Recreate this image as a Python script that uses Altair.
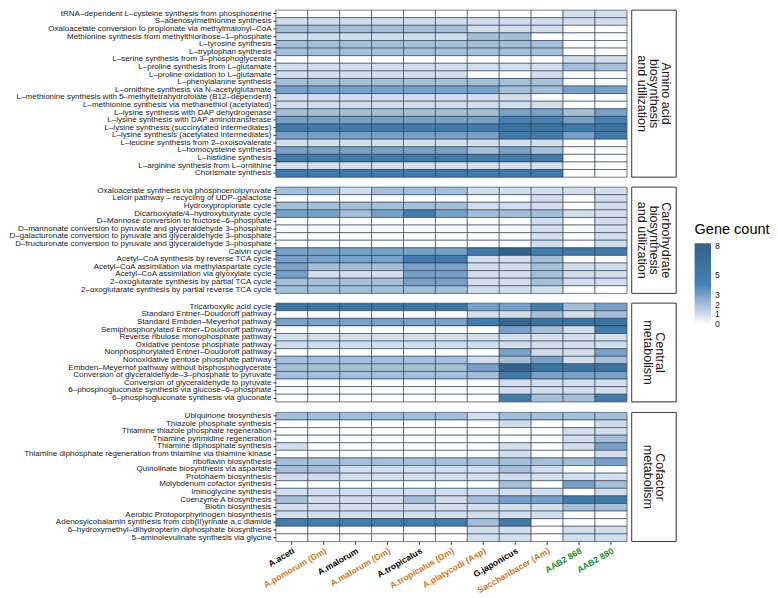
import json
import altair as alt
import pandas as pd

species = ["A.aceti", "A.pomorum (Dm)", "A.malorum", "A.malorum (Dm)", "A.tropicalus",
           "A.tropicalus (Dm)", "A.platycodi (Asp)", "G.japonicus", "Saccharibacer (Am)",
           "AAB2 868", "AAB2 880"]
orange_species = ["A.pomorum (Dm)", "A.malorum (Dm)", "A.tropicalus (Dm)",
                  "A.platycodi (Asp)", "Saccharibacer (Am)"]
green_species = ["AAB2 868", "AAB2 880"]

group_titles = [["Amino acid", "biosynthesis", "and utilization"],
                ["Carbohydrate", "biosynthesis", "and utilization"],
                ["Central", "metabolism"],
                ["Cofactor", "metabolism"]]

amino_pathways = [
    "tRNA–dependent L–cysteine synthesis from phosphoserine",
    "S–adenosylmethionine synthesis",
    "Oxaloacetate conversion to propionate via methylmalonyl–CoA",
    "Methionine synthesis from methylthioribose–1–phosphate",
    "L–tyrosine synthesis",
    "L–tryptophan synthesis",
    "L–serine synthesis from 3–phosphoglycerate",
    "L–proline synthesis from L–glutamate",
    "L–proline oxidation to L–glutamate",
    "L–phenylalanine synthesis",
    "L–ornithine synthesis via N–acetylglutamate",
    "L–methionine synthesis with 5–methyltetrahydrofolate (B12–dependent)",
    "L–methionine synthesis via methanethiol (acetylated)",
    "L–lysine synthesis with DAP dehydrogenase",
    "L–lysine synthesis with DAP aminotransferase",
    "L–lysine synthesis (succinylated intermediates)",
    "L–lysine synthesis (acetylated intermediates)",
    "L–leucine synthesis from 2–oxoisovalerate",
    "L–homocysteine synthesis",
    "L–histidine synthesis",
    "L–arginine synthesis from L–ornithine",
    "Chorismate synthesis",
]
amino_counts = [
    [0, 0, 0, 0, 0, 0, 0, 0, 0, 1, 1],
    [1, 1, 1, 1, 1, 1, 1, 1, 1, 1, 1],
    [2, 2, 2, 2, 2, 2, 1, 1, 1, 0, 0],
    [1, 1, 1, 1, 1, 1, 2, 2, 0, 0, 0],
    [2, 2, 2, 2, 2, 2, 2, 2, 2, 0, 0],
    [2, 2, 2, 2, 2, 2, 2, 2, 2, 0, 0],
    [0, 0, 0, 0, 0, 0, 0, 0, 0, 1, 1],
    [1, 1, 1, 1, 1, 1, 1, 1, 1, 2, 2],
    [1, 1, 1, 1, 1, 1, 0, 0, 1, 0, 0],
    [2, 2, 2, 2, 2, 2, 2, 2, 2, 0, 0],
    [3, 3, 3, 3, 3, 3, 3, 2, 2, 3, 3],
    [1, 1, 1, 1, 1, 1, 1, 1, 0, 0, 0],
    [1, 1, 1, 1, 1, 1, 1, 1, 1, 0, 0],
    [2, 2, 2, 2, 2, 2, 2, 3, 3, 2, 3],
    [3, 3, 3, 3, 3, 3, 3, 4, 4, 3, 4],
    [5, 5, 5, 5, 5, 5, 5, 6, 6, 5, 6],
    [3, 3, 3, 3, 3, 3, 3, 5, 5, 3, 5],
    [1, 1, 1, 1, 1, 1, 1, 1, 1, 0, 0],
    [3, 3, 3, 3, 3, 3, 2, 3, 2, 0, 0],
    [5, 5, 5, 5, 5, 5, 5, 5, 5, 0, 0],
    [1, 1, 1, 1, 1, 1, 1, 1, 1, 0, 0],
    [5, 5, 5, 5, 5, 5, 5, 5, 5, 0, 0],
]

carbo_pathways = [
    "Oxaloacetate synthesis via phosphoenolpyruvate",
    "Leloir pathway – recycling of UDP–galactose",
    "Hydroxypropionate cycle",
    "Dicarboxylate/4–hydroxybutyrate cycle",
    "D–Mannose conversion to fructose–6–phosphate",
    "D–mannonate conversion to pyruvate and glyceraldehyde 3–phosphate",
    "D–galacturonate conversion to pyruvate and glyceraldehyde 3–phosphate",
    "D–fructuronate conversion to pyruvate and glyceraldehyde 3–phosphate",
    "Calvin cycle",
    "Acetyl–CoA synthesis by reverse TCA cycle",
    "Acetyl–CoA assimilation via methylaspartate cycle",
    "Acetyl–CoA assimilation via glyoxylate cycle",
    "2–oxoglutarate synthesis by partial TCA cycle",
    "2–oxoglutarate synthesis by partial reverse TCA cycle",
]
carbo_counts = [
    [2, 2, 1, 2, 2, 2, 1, 1, 1, 1, 1],
    [0, 0, 0, 0, 0, 0, 0, 0, 1, 0, 1],
    [2, 2, 2, 2, 2, 2, 1, 1, 1, 0, 1],
    [3, 3, 2, 3, 5, 3, 2, 2, 2, 1, 1],
    [0, 0, 0, 0, 0, 0, 0, 0, 1, 0, 1],
    [0, 0, 0, 0, 0, 0, 0, 0, 1, 0, 1],
    [0, 0, 0, 0, 0, 0, 0, 0, 1, 0, 1],
    [0, 0, 0, 0, 0, 0, 0, 0, 1, 0, 1],
    [3, 3, 3, 3, 3, 3, 5, 8, 5, 5, 5],
    [3, 3, 3, 3, 5, 5, 1, 1, 2, 0, 0],
    [3, 2, 2, 2, 3, 3, 1, 1, 2, 1, 1],
    [3, 1, 1, 1, 3, 3, 1, 1, 2, 1, 1],
    [2, 2, 2, 2, 3, 3, 1, 1, 2, 1, 1],
    [2, 2, 2, 2, 2, 2, 1, 1, 1, 0, 0],
]

central_pathways = [
    "Tricarboxylic acid cycle",
    "Standard Entner–Doudoroff pathway",
    "Standard Embden–Meyerhof pathway",
    "Semiphosphorylated Entner–Doudoroff pathway",
    "Reverse ribulose monophosphate pathway",
    "Oxidative pentose phosphate pathway",
    "Nonphosphorylated Entner–Doudoroff pathway",
    "Nonoxidative pentose phosphate pathway",
    "Embden–Meyerhof pathway without bisphosphoglycerate",
    "Conversion of glyceraldehyde–3–phosphate to pyruvate",
    "Conversion of glyceraldehyde to pyruvate",
    "6–phosphogluconate synthesis via glucose–6–phosphate",
    "6–phosphogluconate synthesis via gluconate",
]
central_counts = [
    [6, 6, 6, 6, 6, 6, 3, 3, 5, 2, 3],
    [0, 0, 0, 0, 0, 0, 1, 1, 2, 1, 2],
    [3, 3, 3, 3, 3, 3, 5, 8, 6, 6, 6],
    [0, 0, 0, 0, 0, 0, 0, 3, 2, 1, 5],
    [1, 1, 1, 1, 1, 1, 1, 1, 1, 1, 1],
    [1, 1, 1, 1, 1, 1, 1, 1, 1, 1, 1],
    [0, 0, 0, 0, 0, 0, 0, 3, 1, 1, 3],
    [2, 2, 2, 2, 2, 2, 1, 2, 3, 1, 2],
    [2, 2, 2, 2, 2, 2, 3, 8, 6, 6, 6],
    [2, 2, 2, 2, 2, 2, 2, 5, 3, 3, 3],
    [0, 0, 0, 0, 0, 0, 0, 1, 1, 1, 1],
    [0, 0, 0, 0, 0, 0, 0, 1, 1, 1, 1],
    [0, 0, 0, 0, 0, 0, 0, 5, 2, 2, 5],
]

cofactor_pathways = [
    "Ubiquinone biosynthesis",
    "Thiazole phosphate synthesis",
    "Thiamine thiazole phosphate regeneration",
    "Thiamine pyrimidine regeneration",
    "Thiamine diphosphate synthesis",
    "Thiamine diphosphate regeneration from thiamine via thiamine kinase",
    "riboflavin biosynthesis",
    "Quinolinate biosynthesis via aspartate",
    "Protohaem biosynthesis",
    "Molybdenum cofactor synthesis",
    "Iminoglycine synthesis",
    "Coenzyme A biosynthesis",
    "Biotin biosynthesis",
    "Aerobic Protoporphyrinogen biosynthesis",
    "Adenosylcobalamin synthesis from cob(II)yrinate a,c diamide",
    "6–hydroxymethyl–dihydropterin diphosphate biosynthesis",
    "5–aminolevulinate synthesis via glycine",
]
cofactor_counts = [
    [2, 2, 2, 2, 2, 2, 1, 2, 2, 2, 2],
    [0, 0, 0, 0, 0, 0, 0, 1, 0, 0, 1],
    [0, 0, 0, 0, 0, 0, 0, 0, 0, 1, 1],
    [0, 0, 0, 0, 0, 0, 0, 0, 0, 1, 2],
    [1, 0, 0, 0, 0, 0, 0, 1, 0, 1, 3],
    [0, 0, 0, 0, 0, 0, 0, 1, 0, 0, 1],
    [2, 2, 2, 2, 2, 2, 2, 2, 2, 2, 3],
    [2, 2, 1, 1, 1, 1, 1, 2, 1, 0, 0],
    [1, 1, 1, 1, 1, 1, 1, 1, 1, 1, 1],
    [0, 0, 0, 0, 0, 0, 0, 2, 0, 3, 2],
    [1, 1, 1, 1, 1, 1, 1, 1, 1, 0, 1],
    [2, 1, 1, 1, 2, 1, 2, 3, 3, 5, 5],
    [1, 1, 1, 1, 1, 1, 1, 1, 1, 2, 2],
    [1, 1, 1, 1, 1, 1, 1, 1, 1, 0, 0],
    [5, 5, 5, 5, 5, 5, 2, 5, 0, 0, 0],
    [0, 0, 0, 0, 0, 0, 1, 1, 0, 1, 1],
    [0, 0, 0, 0, 0, 0, 1, 1, 0, 1, 1],
]

groups = [
    (group_titles[0], amino_pathways, amino_counts),
    (group_titles[1], carbo_pathways, carbo_counts),
    (group_titles[2], central_pathways, central_counts),
    (group_titles[3], cofactor_pathways, cofactor_counts),
]

FONT = "Liberation Sans"
ROW = 7.85
COL = 33
STRIP_W = 46
STRIP_LH = 12
YEXT = 262

# colour ramp: white at 0 -> steelblue at 4 -> steelblue4 at 8 (bar padded a little past 0 and 8)
color_scale = alt.Scale(domain=[-0.3, 0, 4, 8, 8.3],
                        range=["#ffffff", "#ffffff", "#4682B4", "#36648B", "#36648B"],
                        interpolate="lab")
legend = alt.Legend(title="Gene count", orient="none", legendX=433, legendY=220,
                    values=[0, 1, 2, 3, 5, 8], gradientLength=87, gradientThickness=17,
                    titleFontSize=15, titleFontWeight="normal", titleFont=FONT,
                    titleColor="#000000", labelFontSize=9, labelFont=FONT,
                    labelColor="#1a1a1a", direction="vertical", gradientStrokeWidth=0,
                    titlePadding=6, labelOffset=4, labelOverlap=False)

label_color = {
    "condition": [
        {"test": "indexof(%s, datum.value) >= 0" % json.dumps(orange_species), "value": "#D2781E"},
        {"test": "indexof(%s, datum.value) >= 0" % json.dumps(green_species), "value": "#1E8A1E"},
    ],
    "value": "#000000",
}

rows = []
for gi, (title_lines, paths, counts) in enumerate(groups):
    recs = []
    for p, vals in zip(paths, counts):
        for s, v in zip(species, vals):
            recs.append({"pathway": p, "species": s, "count": v})
    df = pd.DataFrame(recs)
    last = gi == len(groups) - 1
    if last:
        xaxis = alt.Axis(title=None, labelAngle=-30, labelAlign="right", labelBaseline="top",
                         labelFontSize=9, labelFontWeight="bold", labelFont=FONT,
                         labelColor=label_color, tickSize=3, tickColor="#333333",
                         domain=False, labelPadding=2)
    else:
        xaxis = None
    heat = alt.Chart(df).mark_rect(stroke="#26364a", strokeWidth=0.6).encode(
        x=alt.X("species:N", sort=species, axis=xaxis,
                scale=alt.Scale(paddingInner=0, paddingOuter=0)),
        y=alt.Y("pathway:N", sort=paths,
                scale=alt.Scale(paddingInner=0, paddingOuter=0),
                axis=alt.Axis(title=None, labelFontSize=8.3, labelFont=FONT,
                              labelColor="#1a1a1a", labelLimit=400, tickSize=3,
                              tickColor="#333333", domain=False, labelPadding=2,
                              minExtent=YEXT, maxExtent=YEXT)),
        color=alt.Color("count:Q", scale=color_scale, legend=legend),
    ).properties(width=alt.Step(COL), height=alt.Step(ROW))

    h = len(paths) * ROW
    n = len(title_lines)
    sdf = pd.DataFrame({"label": [" ".join(title_lines)]})
    box = alt.Chart(sdf).mark_rect(fill="white", stroke="#333333", strokeWidth=1).encode(
        x=alt.value(0), x2=alt.value(STRIP_W), y=alt.value(0), y2=alt.value(h)
    )
    layers = [box]
    for li, line in enumerate(title_lines):
        xoff = STRIP_W / 2 + ((n - 1) / 2 - li) * STRIP_LH
        ldf = pd.DataFrame({"line": [line]})
        layers.append(alt.Chart(ldf).mark_text(
            angle=90, fontSize=13, font=FONT, color="#1a1a1a",
            align="center", baseline="middle"
        ).encode(text="line:N", x=alt.value(xoff), y=alt.value(h / 2)))
    strip = alt.layer(*layers).properties(width=STRIP_W, height=h)

    rows.append(alt.hconcat(heat, strip, spacing=3).resolve_scale(color="shared"))

chart = alt.vconcat(*rows, spacing=6).resolve_scale(color="shared").properties(
    padding={"left": 0, "top": -11, "right": 0, "bottom": 0}
).configure_view(stroke="#333333", strokeWidth=1).configure(background="white")

chart.save("out.html", embed_options={"renderer": "svg", "actions": False})
